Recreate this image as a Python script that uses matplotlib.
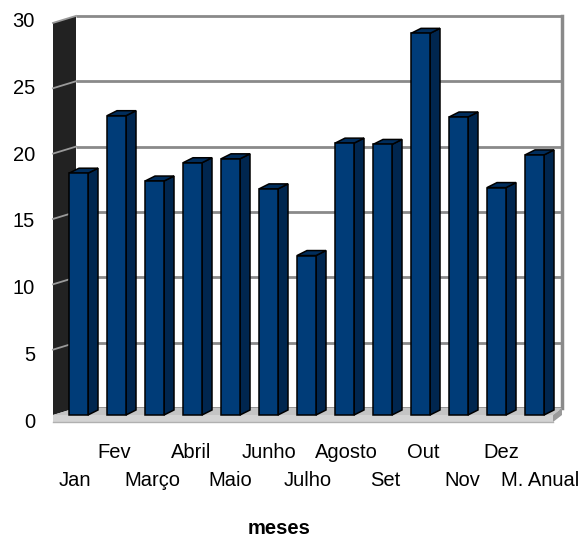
import matplotlib
matplotlib.use("Agg")
import matplotlib.pyplot as plt
from matplotlib.patches import Polygon

plt.rcParams['font.family'] = ['Liberation Sans', 'DejaVu Sans']

# ---- data ----
categories = ["Jan", "Fev", "Março", "Abril", "Maio", "Junho", "Julho",
              "Agosto", "Set", "Out", "Nov", "Dez", "M. Anual"]
values = [18.5, 22.9, 17.9, 19.3, 19.6, 17.3, 12.2,
          20.8, 20.7, 29.2, 22.8, 17.4, 19.9]
yticks = [0, 5, 10, 15, 20, 25, 30]
xlabel = "meses"

# ---- geometry (pixel-based layout) ----
W, H = 587, 539
PX_X = 38.0       # pixels per category
PX_Y = 13.07      # pixels per value unit
X0 = 78.5         # pixel x of first category centre
Y0 = 415.0        # pixel y of value 0 on front plane

def px_to_dx(p):
    return p / PX_X

def px_to_dy(p):
    return p / PX_Y

fig = plt.figure(figsize=(W / 100, H / 100), dpi=100)
left_px, right_px, top_px, bot_px = 53, 563, 14, 424
ax = fig.add_axes([left_px / W, 1 - bot_px / H, (right_px - left_px) / W, (bot_px - top_px) / H])
ax.set_xlim((left_px - X0) / PX_X, (right_px - X0) / PX_X)
ax.set_ylim((Y0 - bot_px) / PX_Y, (Y0 - top_px) / PX_Y)
for s in ax.spines.values():
    s.set_visible(False)
ax.set_xticks([])
ax.set_yticks([])

ymax = max(yticks)
wall_dx = px_to_dx(23)
wall_dy = px_to_dy(7)
xl_front = (53 - X0) / PX_X
xl_back = xl_front + wall_dx
xr_back = (562 - X0) / PX_X
xr_front = (553 - X0) / PX_X
slab = px_to_dy(7)

grid_c = "#8a8a8a"
# back wall
ax.add_patch(Polygon([(xl_back, wall_dy), (xr_back, wall_dy), (xr_back, ymax + wall_dy),
                      (xl_back, ymax + wall_dy)], closed=True, fc="white", ec="none", zorder=1))
for t in yticks:
    ax.plot([xl_back, xr_back], [t + wall_dy, t + wall_dy], color=grid_c, lw=2.0,
            solid_capstyle="butt", zorder=2, clip_on=False)
ax.plot([xr_back, xr_back], [wall_dy, ymax + wall_dy], color=grid_c, lw=2.5, zorder=2, clip_on=False)
# left wall
ax.add_patch(Polygon([(xl_front, 0), (xl_back, wall_dy), (xl_back, ymax + wall_dy),
                      (xl_front, ymax)], closed=True, fc="#222222", ec="none", zorder=3, clip_on=False))
for t in yticks[1:]:
    ax.plot([xl_front, xl_back], [t, t + wall_dy], color="#9a9a9a", lw=1.3, zorder=3.5, clip_on=False)
# floor
ax.add_patch(Polygon([(xl_front, 0), (xl_back, wall_dy), (xr_back, wall_dy), (xr_front, 0)],
                     closed=True, fc="#c4c4c4", ec="none", zorder=4, clip_on=False))
ax.add_patch(Polygon([(xl_front, 0), (xr_front, 0), (xr_front, -slab), (xl_front, -slab)],
                     closed=True, fc="#d3d3d3", ec="none", zorder=4, clip_on=False))
ax.plot([xl_front, xr_front], [-slab, -slab], color="#b0b0b0", lw=1.0, zorder=4, clip_on=False)
ax.add_patch(Polygon([(xr_front, 0), (xr_back, wall_dy), (xr_back, wall_dy - slab), (xr_front, -slab)],
                     closed=True, fc="#9a9a9a", ec="none", zorder=4, clip_on=False))

# bars
hw = px_to_dx(9.5)
bdx = px_to_dx(10)
bdy = px_to_dy(5)
front_c = "#003c78"
side_c = "#00264f"
top_c = "#002d5c"
for i, v in enumerate(values):
    xl, xr = i - hw, i + hw
    z = 5 + i * 0.01
    ax.add_patch(Polygon([(xr, 0), (xr + bdx, bdy), (xr + bdx, v + bdy), (xr, v)],
                         closed=True, fc=side_c, ec="black", lw=1.1, zorder=z, clip_on=False))
    ax.add_patch(Polygon([(xl, v), (xr, v), (xr + bdx, v + bdy), (xl + bdx, v + bdy)],
                         closed=True, fc=top_c, ec="black", lw=1.1, zorder=z, clip_on=False))
    ax.add_patch(Polygon([(xl, 0), (xr, 0), (xr, v), (xl, v)],
                         closed=True, fc=front_c, ec="black", lw=1.1, zorder=z, clip_on=False))

FS = 14.5
# y tick labels on their own (invisible) axis, matching the reference's label spacing
lab_top, lab_bot = 19.8, 420.0
axl = fig.add_axes([left_px / W, 1 - lab_bot / H, 0.001, (lab_bot - lab_top) / H])
axl.set_ylim(0, ymax)
axl.patch.set_visible(False)
for s in axl.spines.values():
    s.set_visible(False)
axl.set_xticks([])
axl.set_yticks(yticks)
axl.set_yticklabels([str(t) for t in yticks], fontsize=FS)
axl.tick_params(axis="y", length=0, pad=13)

# x category labels (staggered, two rows)
lab_x0 = 75.0
lab_step = 38.75
for i, c in enumerate(categories):
    px = lab_x0 + lab_step * i
    py = 453 if i % 2 == 1 else 481
    fig.text(px / W, 1 - py / H, c, ha="center", va="center", fontsize=FS)

fig.text(279 / W, 1 - 528 / H, xlabel, ha="center", va="center", fontsize=FS, fontweight="bold")

fig.savefig("out.png", dpi=100)
